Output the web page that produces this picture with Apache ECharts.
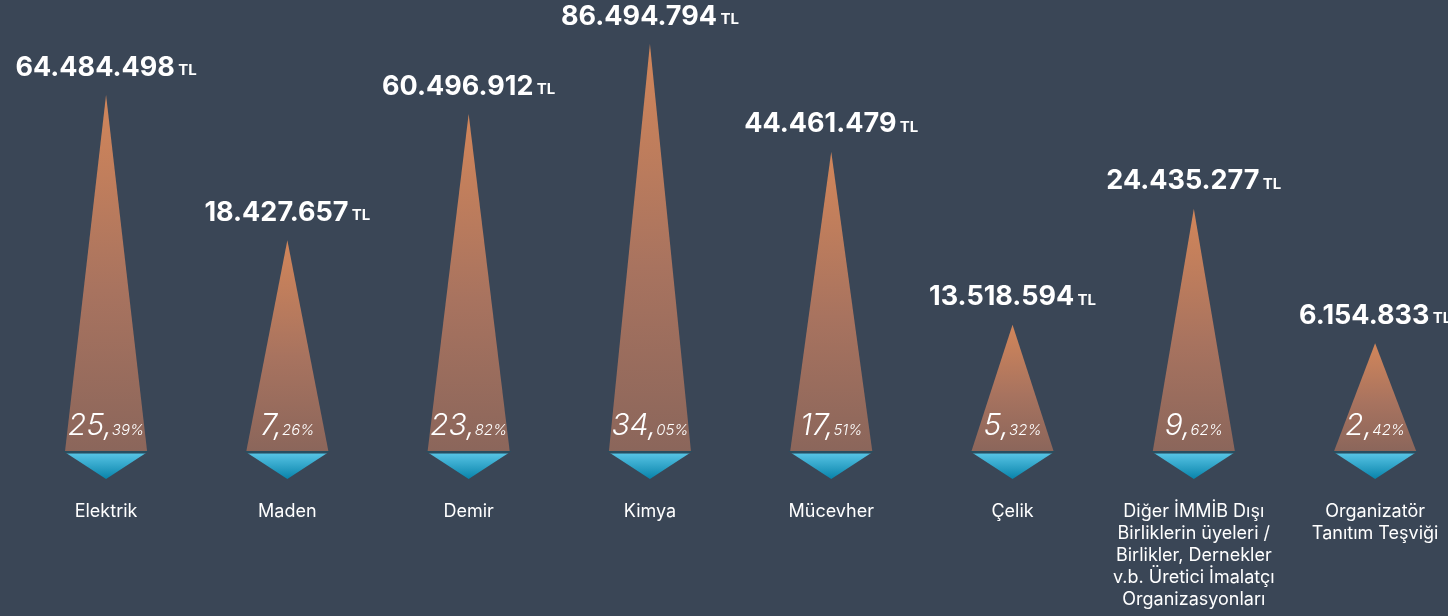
<!DOCTYPE html>
<html>
<head>
<meta charset="utf-8">
<script src="https://cdn.jsdelivr.net/npm/echarts@6/dist/echarts.min.js"></script>
<style>
  html, body { margin: 0; padding: 0; background: #3a4656; }
  #main { width: 1448px; height: 616px; }
</style>
</head>
<body>
<div id="main"></div>
<script>
var categories = ['Elektrik', 'Maden', 'Demir', 'Kimya', 'Mücevher', 'Çelik',
    'Diğer İMMİB Dışı\nBirliklerin üyeleri /\nBirlikler, Dernekler\nv.b. Üretici İmalatçı\nOrganizasyonları',
    'Organizatör\nTanıtım Teşviği'];
var amounts = [64484498, 18427657, 60496912, 86494794, 44461479, 13518594, 24435277, 6154833];
var shares = [25.39, 7.26, 23.82, 34.05, 17.51, 5.32, 9.62, 2.42];
// drawn height of each cone (Kimya = 100)
var coneHeight = [87.5, 51.8, 82.8, 100, 73.5, 31.0, 59.5, 26.5];

function tl(n) {
    return String(n).replace(/\B(?=(\d{3})+(?!\d))/g, '.');
}

// category index on x, cone height on y
var points = coneHeight.map(function (h, i) { return [i, h]; });

var myChart = echarts.init(document.getElementById('main'));
var option = {
    backgroundColor: '#3a4656',
    grid: { left: 0, right: 0, top: 44, bottom: 165 },
    xAxis: {
        type: 'value',
        min: -0.585,
        max: 7.402,
        show: false,
        splitLine: { show: false }
    },
    yAxis: {
        type: 'value',
        min: 0,
        max: 100,
        show: false,
        splitLine: { show: false }
    },
    series: [
        {
            name: 'cone',
            type: 'pictorialBar',
            symbol: 'triangle',
            symbolSize: [82, '100%'],
            z: 2,
            itemStyle: {
                color: new echarts.graphic.LinearGradient(0, 0, 0, 1, [
                    { offset: 0, color: '#d2865a' },
                    { offset: 0.55, color: '#a8735f' },
                    { offset: 1, color: '#8b665b' }
                ])
            },
            label: {
                show: true,
                position: 'top',
                distance: 14,
                formatter: function (p) {
                    return '{n|' + tl(amounts[p.dataIndex]) + '} {t|TL}';
                },
                rich: {
                    n: { color: '#ffffff', fontSize: 27, fontWeight: 'bold', fontFamily: 'Inter' },
                    t: { color: '#ffffff', fontSize: 15, fontWeight: 'bold', fontFamily: 'Inter', padding: [6, 0, 0, 0] }
                }
            },
            data: points
        },
        {
            name: 'share',
            type: 'pictorialBar',
            symbol: 'rect',
            symbolSize: [1, '100%'],
            itemStyle: { color: 'rgba(0,0,0,0)' },
            z: 5,
            label: {
                show: true,
                position: 'insideBottom',
                distance: 10,
                formatter: function (p) {
                    var s = shares[p.dataIndex].toFixed(2).split('.');
                    return '{a|' + s[0] + ',}{b|' + s[1] + '%}';
                },
                rich: {
                    a: { color: '#ffffff', fontSize: 30, fontStyle: 'italic', fontWeight: 300, fontFamily: 'Inter' },
                    b: { color: '#ffffff', fontSize: 15, fontStyle: 'italic', fontWeight: 300, fontFamily: 'Inter', padding: [8, 0, 0, 0] }
                }
            },
            barGap: '-100%',
            data: points
        },
        {
            name: 'base',
            type: 'pictorialBar',
            symbol: 'path://M0,0 L2,0 L1,1 Z',
            symbolSize: [86, 28],
            symbolPosition: 'start',
            symbolOffset: [0, '100%'],
            barGap: '-100%',
            z: 3,
            itemStyle: {
                color: new echarts.graphic.LinearGradient(0, 0, 0, 1, [
                    { offset: 0, color: '#284e60' },
                    { offset: 0.08, color: '#284e60' },
                    { offset: 0.1, color: '#56c3e4' },
                    { offset: 1, color: '#0883aa' }
                ])
            },
            label: {
                show: true,
                position: 'bottom',
                distance: 50,
                align: 'center',
                color: '#ffffff',
                fontSize: 18,
                lineHeight: 22,
                fontFamily: 'Inter',
                formatter: function (p) {
                    return categories[p.dataIndex];
                }
            },
            data: points
        }
    ]
};
myChart.setOption(option);
</script>
</body>
</html>
